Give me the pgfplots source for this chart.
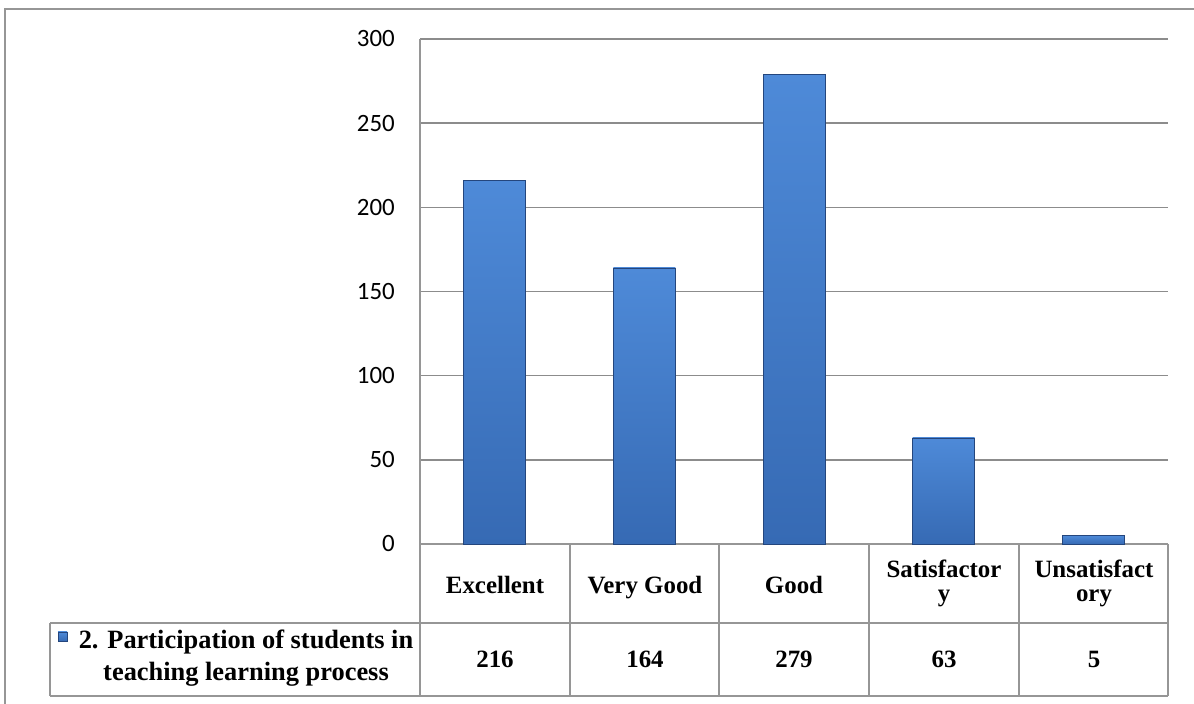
\documentclass[border=0pt]{standalone}
\usepackage{pgfplots}
\pgfplotsset{compat=1.18}
\usepackage{fontspec}
\setmainfont{Liberation Serif}
\newfontfamily\calib{Carlito}
\definecolor{gridgray}{RGB}{140,140,140}
\definecolor{linegray}{RGB}{150,150,150}
\definecolor{bardark}{RGB}{36,70,125}
\definecolor{bartop}{RGB}{78,138,216}
\definecolor{barbottom}{RGB}{54,106,180}

\begin{document}
\begin{tikzpicture}[x=1bp,y=1bp]
\useasboundingbox (0,0) rectangle (1194,704);
% outer frame
\draw[linegray, line width=2.5bp] (5,0) -- (5,695) -- (1194,695);
\begin{axis}[
  at={(420bp,160bp)}, anchor=south west,
  scale only axis, width=748bp, height=505bp,
  xmin=-0.5, xmax=4.5, ymin=0, ymax=300,
  xtick=\empty,
  ytick={0,50,...,300},
  major tick length=0pt,
  ymajorgrids, grid style={gridgray, line width=1.5bp},
  axis lines*=left,
  axis line style={linegray, line width=1.5bp},
  /pgf/number format/assume math mode=true,
  yticklabel style={font=\calib\fontsize{25}{25}\selectfont, inner sep=0pt, xshift=-25bp},
  clip=false,
  every axis plot post/.style={ybar, bar width=62bp, bar shift=0pt, mark=none,
    draw=bardark, line width=0.8bp, top color=bartop, bottom color=barbottom},
]
% one plot per bar so each bar gets its own shading
\addplot coordinates {(0,216)};
\addplot coordinates {(1,164)};
\addplot coordinates {(2,279)};
\addplot coordinates {(3,63)};
\addplot coordinates {(4,5)};
\end{axis}
% data table
\begin{scope}[linegray, line width=1.8bp]
  \draw (50,81) -- (1168,81);
  \draw (50,8) -- (1168,8);
  \draw (50,81) -- (50,8);
  \foreach \xx in {420,570,719,869,1019,1168} \draw (\xx,160) -- (\xx,8);
\end{scope}
% anchor=base of a two-line node is the baseline of its last line
\begin{scope}[font=\bfseries\fontsize{25}{25}\selectfont, align=center, anchor=base, inner sep=0pt]
  \node at (495,110) {Excellent};
  \node at (645,110) {Very Good};
  \node at (794,110) {Good};
  \node at (944,102) {Satisfactor\\y};
  \node at (1094,102) {Unsatisfact\\ory};
  \node at (495,36) {216};
  \node at (645,36) {164};
  \node at (794,36) {279};
  \node at (944,36) {63};
  \node at (1094,36) {5};
\end{scope}
\node[font=\bfseries\fontsize{26.5}{33}\selectfont, align=center, anchor=base, inner sep=0pt] at (246,23)
  {2. Participation of students in\\teaching learning process};
\fill[top color=bartop, bottom color=barbottom, draw=bardark, line width=0.5bp] (58,63) rectangle (67,72);
\end{tikzpicture}
\end{document}
